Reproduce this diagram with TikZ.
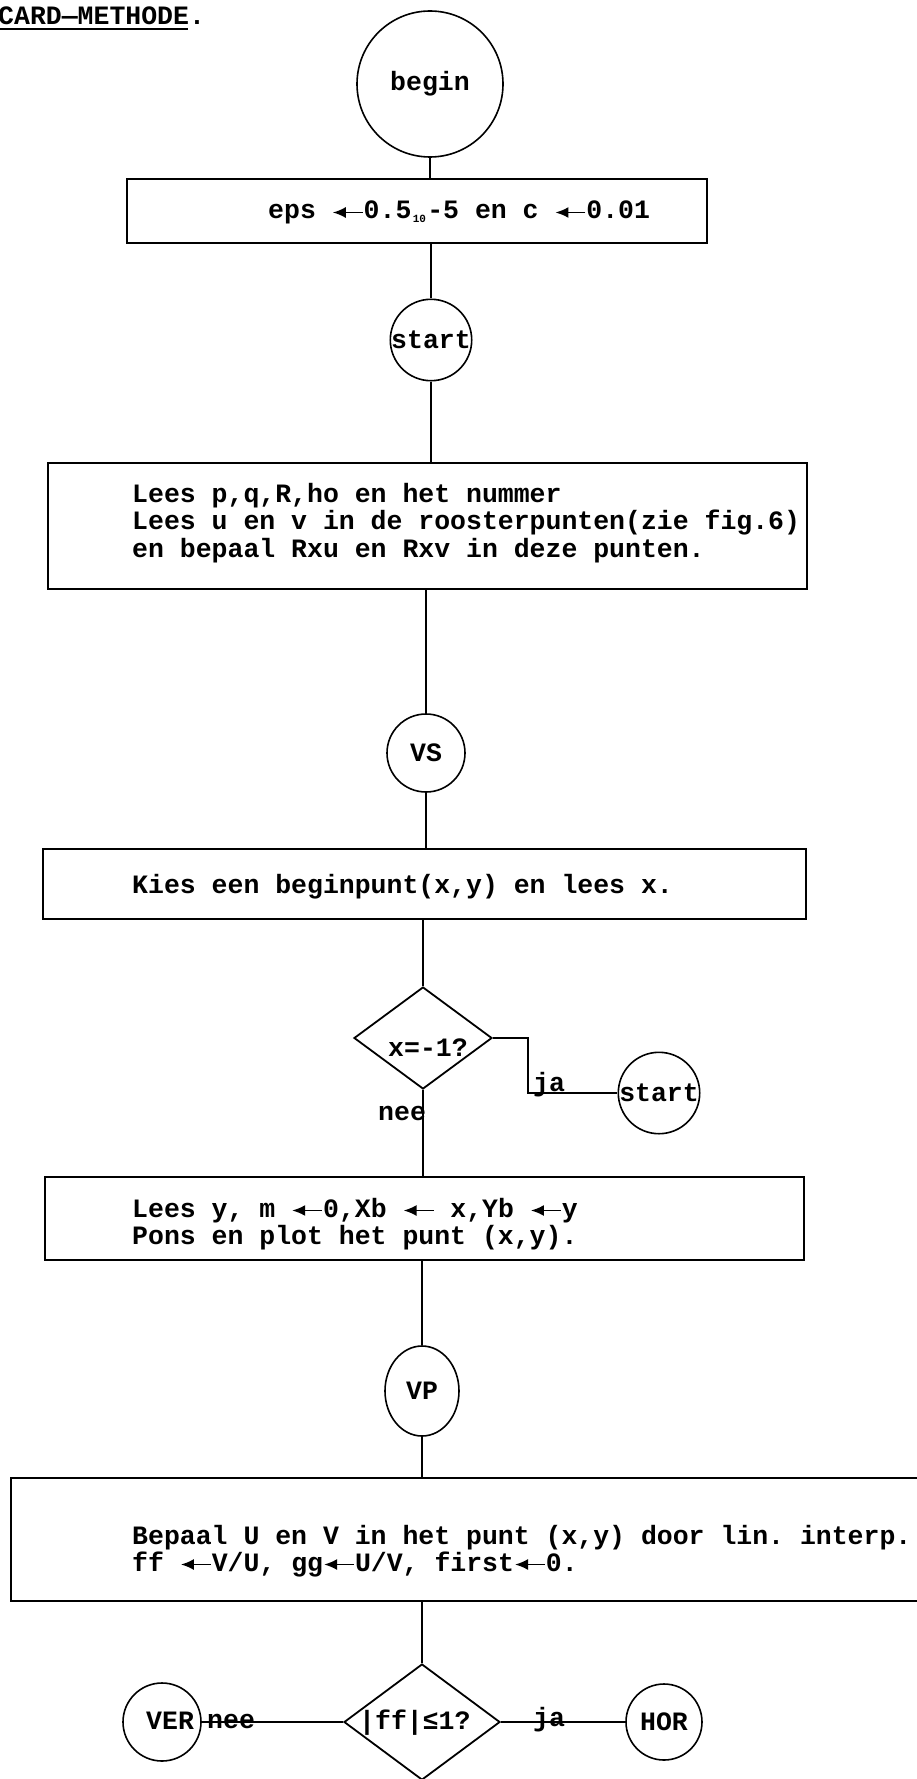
\documentclass[tikz,border=0pt]{standalone}
\usepackage{fontspec}
\setmonofont{Liberation Mono}
\usetikzlibrary{shapes.geometric,arrows.meta}

% typewriter assignment arrow, two character cells wide
\newcommand{\lar}{\tikz[baseline=-6.5pt]\draw[line width=1.9pt,-{Latex[length=13pt,width=11pt]}] (31pt,0pt) -- (1pt,0pt);}
% decimal exponent sign, one character cell
\newcommand{\tenx}{\makebox[15.9pt][c]{\raisebox{-4pt}{\fontsize{11}{11}\selectfont 10}}}

\begin{document}
\begin{tikzpicture}[x=1pt,y=-1pt,
  tw/.style={font=\ttfamily\bfseries\fontsize{26.5}{27.5}\selectfont, inner sep=0pt},
  txt/.style={tw, anchor=base west},
  box/.style={draw, rectangle, line width=2.2pt, inner sep=0pt},
  circ/.style={draw, circle, line width=1.6pt, inner sep=0pt, tw},
  oval/.style={draw, ellipse, line width=1.6pt, inner sep=0pt, tw},
  test/.style={draw, diamond, line width=1.8pt, inner sep=0pt},
  conn/.style={line width=1.8pt}]
\useasboundingbox (0,0) rectangle (916,1779);

% heading
\node[txt] (title) at (-2,25) {CARD—METHODE.};
\draw[line width=2pt] (0,29) -- (188,29);

% initialisation
\node[circ, minimum size=146] (begin) at (430,84) {begin};
\node[box, minimum width=580, minimum height=64] (eps) at (417,211) {};
\node[txt] (epst) at (268,219) {eps \lar0.5\tenx-5 en c \lar0.01};

\node[circ, minimum size=78] (s1) at (431,340) {start};

\node[box, minimum width=759, minimum height=126] (lees) at (427.5,526) {};
\node[txt] (l1) at (132,502) {Lees p,q,R,ho en het nummer};
\node[txt] (l2) at (132,529.5) {Lees u en v in de roosterpunten(zie fig.6)};
\node[txt] (l3) at (132,557) {en bepaal Rxu en Rxv in deze punten.};

\node[circ, minimum size=78] (vs) at (426,753) {VS};

\node[box, minimum width=763, minimum height=70] (kies) at (424.5,884) {};
\node[txt] (k1) at (132,893) {Kies een beginpunt(x,y) en lees x.};

% end-of-data test
\node[test, minimum width=138, minimum height=102] (d1) at (423,1038) {};
\node[txt] (d1t) at (388,1056) {x=-1?};
\node[circ, minimum size=78] (s2) at (659,1093) {start};
\node[txt] (ja1) at (533,1091) {ja};
\node[txt] (nee1) at (378,1120) {nee};

\node[box, minimum width=759, minimum height=83] (leesy) at (424.5,1218.5) {};
\node[txt] (y1) at (132,1217) {Lees y, m \lar0,Xb \lar{} x,Yb \lar y};
\node[txt] (y2) at (132,1244) {Pons en plot het punt (x,y).};

\node[oval, minimum width=74, minimum height=90] (vp) at (422,1391) {VP};

\node[box, minimum width=940, minimum height=123] (big) at (481,1539.5) {};
\node[txt] (b1) at (132,1544) {Bepaal U en V in het punt (x,y) door lin. interp.};
\node[txt] (b2) at (132,1571) {ff \lar V/U, gg\lar U/V, first\lar 0.};

% direction test
\node[test, minimum width=156, minimum height=116] (d2) at (422,1722) {};
\node[txt] (d2t) at (359,1729) {|ff|≤1?};
\node[circ, minimum size=78] (ver) at (162,1722) {};
\node[txt] (vert) at (146,1729) {VER};
\node[circ, minimum size=76] (hor) at (664,1722) {HOR};
\node[txt] (nee2) at (207,1728) {nee};
\node[txt] (ja2) at (533,1726) {ja};

% connectors
\draw[conn] (begin.south) -- (begin.south |- eps.north);
\draw[conn] (s1.north |- eps.south) -- (s1.north);
\draw[conn] (s1.south) -- (s1.south |- lees.north);
\draw[conn] (vs.north |- lees.south) -- (vs.north);
\draw[conn] (vs.south) -- (vs.south |- kies.north);
\draw[conn] (d1.north |- kies.south) -- (d1.north);
\draw[conn] (d1.south) -- (d1.south |- leesy.north);
\draw[conn] (d1.east) -- ++(35,0) |- (s2.west);
\draw[conn] (vp.north |- leesy.south) -- (vp.north);
\draw[conn] (vp.south) -- (vp.south |- big.north);
\draw[conn] (d2.north |- big.south) -- (d2.north);
\draw[conn] (d2.west) -- (ver.east);
\draw[conn] (d2.east) -- (hor.west);
\end{tikzpicture}
\end{document}
